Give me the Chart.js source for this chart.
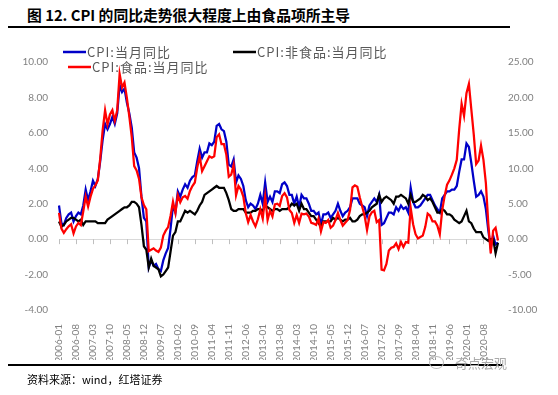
<!DOCTYPE html>
<html>
<head>
<meta charset="utf-8">
<script src="https://cdn.jsdelivr.net/npm/chart.js@4.4.0/dist/chart.umd.min.js"></script>
<style>
  body { margin: 0; background: #fff; width: 558px; height: 395px; overflow: hidden; position: relative; font-family: "Noto Sans CJK SC", sans-serif; }
  #chart { position: absolute; left: 0; top: 0; }
  #title { position: absolute; left: 27px; top: 4px; font-size: 14.8px; font-weight: bold; color: #000; line-height: 21px; white-space: nowrap; }
  .rule { position: absolute; left: 8px; height: 1.5px; background: #000; }
  #src { position: absolute; left: 27px; top: 371px; font-size: 11px; color: #000; line-height: 16px; }
  #wm { position: absolute; left: 455px; top: 354px; font-size: 13px; color: #aaa; line-height: 18px; }
  #wmIcon { position: absolute; left: 429px; top: 356px; width: 13px; height: 11px; border: 1px solid #bbb; border-radius: 50%; }
</style>
</head>
<body>
<div id="title">图 12. CPI 的同比走势很大程度上由食品项所主导</div>
<div class="rule" style="top:26px;width:502px"></div>
<canvas id="chart" width="558" height="395"></canvas>
<div class="rule" style="top:364px;width:494px"></div>
<div id="wmIcon"></div>
<div id="wm">奇点宏观</div>
<div id="src">资料来源：wind，红塔证券</div>
<script>
  // CPI:当月同比 (%), 2006-01 .. 2021-02
  const cpiAll = [
    1.9, 0.9, 0.8, 1.2, 1.4, 1.5, 1.0, 1.3, 1.5, 1.4, 1.9, 2.8,
    2.2, 2.7, 3.3, 3.0, 3.4, 4.4, 5.6, 6.5, 6.2, 6.5, 6.9, 6.5,
    7.1, 8.7, 8.3, 8.5, 7.7, 7.1, 6.3, 4.9, 4.6, 4.0, 2.4, 1.2,
    1.0, -1.6, -1.2, -1.5, -1.4, -1.7, -1.8, -1.2, -0.8, -0.5, 0.6, 1.9,
    1.5, 2.7, 2.4, 2.8, 3.1, 2.9, 3.3, 3.5, 3.6, 4.4, 5.1, 4.6,
    4.9, 4.9, 5.4, 5.3, 5.5, 6.4, 6.5, 6.2, 6.1, 5.5, 4.2, 4.1,
    4.5, 3.2, 3.6, 3.4, 3.0, 2.2, 1.8, 2.0, 1.9, 1.7, 2.0, 2.5,
    2.0, 3.2, 2.1, 2.4, 2.1, 2.7, 2.7, 2.6, 3.1, 3.2, 3.0, 2.5,
    2.5, 2.0, 2.4, 1.8, 2.5, 2.3, 2.3, 2.0, 1.6, 1.6, 1.4, 1.5,
    0.8, 1.4, 1.4, 1.5, 1.2, 1.4, 1.6, 2.0, 1.6, 1.3, 1.5, 1.6,
    1.8, 2.3, 2.3, 2.3, 2.0, 1.9, 1.8, 1.3, 1.9, 2.1, 2.3, 2.1,
    2.5, 0.8, 0.9, 1.2, 1.5, 1.5, 1.4, 1.8, 1.6, 1.9, 1.7, 1.8,
    1.5, 2.9, 2.1, 1.8, 1.8, 1.9, 2.1, 2.3, 2.5, 2.5, 2.2, 1.9,
    1.7, 1.5, 2.3, 2.5, 2.7, 2.7, 2.8, 2.8, 3.0, 3.8, 4.5, 4.5,
    5.4, 5.2, 4.3, 3.3, 2.4, 2.5, 2.7, 2.4, 1.7, 0.5, -0.5, 0.2,
    -0.3, -0.2
  ];

  // CPI:非食品:当月同比 (%)
  const cpiNonFood = [
    1.0, 0.7, 0.8, 1.0, 1.1, 1.2, 1.2, 1.1, 1.0, 1.1, 0.8, 1.0,
    1.0, 1.0, 1.0, 1.0, 0.9, 0.9, 0.9, 0.9, 1.1, 1.2, 1.3, 1.4,
    1.5, 1.6, 1.7, 1.8, 1.8, 1.9, 2.1, 2.1, 2.0, 1.8, 0.8, -0.4,
    -0.6, -1.6, -1.1, -1.5, -1.6, -1.7, -2.1, -2.0, -1.8, -1.6, -0.7, 0.2,
    0.4, 1.0, 1.0, 1.3, 1.6, 1.5, 1.6, 1.5, 1.4, 1.6, 1.9, 2.1,
    2.5, 2.6, 2.7, 2.8, 2.9, 3.0, 2.9, 2.9, 2.9, 2.6, 2.2, 1.7,
    1.6, 1.6, 1.7, 1.7, 1.7, 1.5, 1.5, 1.5, 1.6, 1.6, 1.7, 1.7,
    1.6, 1.9, 1.8, 1.7, 1.6, 1.7, 1.7, 1.6, 1.7, 1.7, 1.7, 1.8,
    2.0, 1.9, 2.0, 1.6, 2.0, 1.7, 1.7, 1.5, 1.3, 1.3, 1.1, 0.9,
    0.7, 1.0, 1.0, 1.0, 1.0, 1.2, 1.1, 1.2, 1.1, 1.0, 1.1, 1.1,
    1.2, 1.0, 1.0, 1.1, 1.3, 1.4, 1.4, 1.5, 1.6, 1.8, 1.9, 2.0,
    2.5, 2.1, 2.3, 2.4, 2.3, 2.2, 2.0, 2.4, 2.4, 2.5, 2.4, 2.3,
    2.0, 2.5, 2.1, 2.1, 2.2, 2.3, 2.5, 2.4, 2.2, 2.3, 2.1, 1.8,
    1.5, 1.5, 1.7, 1.6, 1.4, 1.4, 1.3, 1.1, 1.0, 0.9, 1.0, 1.3,
    1.6, 1.0, 0.9, 0.6, 0.4, 0.4, 0.4, 0.1, 0.0, -0.1, 0.0, 0.0,
    -0.8, -0.2
  ];

  // CPI:食品:当月同比 (%), right axis
  const cpiFood = [
    3.7, 1.5, 0.9, 1.4, 1.8, 2.1, 0.8, 1.8, 2.3, 2.0, 3.9, 6.0,
    4.6, 6.0, 7.1, 7.6, 8.3, 11.4, 15.4, 18.2, 16.2, 17.6, 18.2, 16.7,
    18.2, 23.3, 21.4, 22.1, 19.9, 17.3, 14.4, 10.3, 9.7, 8.5, 5.9, 4.8,
    4.2, -1.7, -1.5, -1.3, -1.6, -1.8, -1.2, 0.5, 1.2, 1.7, 3.3, 5.3,
    3.7, 6.2, 5.2, 5.9, 6.1, 5.7, 6.8, 7.5, 8.0, 10.1, 11.7, 9.6,
    10.3, 11.0, 11.7, 11.5, 11.7, 14.4, 14.8, 13.4, 13.4, 11.9, 8.8, 9.1,
    10.5, 6.2, 7.5, 7.0, 6.0, 3.7, 2.4, 3.4, 2.5, 1.8, 2.8, 4.2,
    2.9, 6.0, 2.7, 4.0, 3.2, 4.9, 5.0, 4.7, 6.1, 6.5, 5.9, 4.1,
    3.7, 2.3, 3.4, 2.3, 3.6, 3.5, 3.6, 3.2, 2.3, 2.2, 2.0, 2.9,
    1.1, 2.4, 2.3, 2.7, 1.6, 1.9, 2.7, 3.7, 2.7, 1.9, 2.3, 2.7,
    4.1, 7.3, 7.6, 7.4, 5.9, 4.6, 3.3, 1.3, 3.2, 3.8, 4.0, 2.4,
    2.7, -4.3, -4.4, -3.5, -1.6, -1.2, -1.1, -0.6, -1.4, -0.4, -1.1, -0.4,
    -0.5, 4.4, 2.1, 0.7, 0.1, 0.3, 0.5, 1.7, 3.6, 3.3, 2.5, 2.5,
    1.9, 0.7, 4.1, 6.1, 7.7, 8.3, 9.1, 10.0, 11.2, 15.5, 19.1, 17.4,
    20.6, 21.9, 18.3, 14.8, 10.6, 11.1, 13.2, 11.2, 7.9, 2.2, -2.0, 1.2,
    1.6, -0.2
  ];

  // monthly categories starting 2006-01
  const months = [];
  for (let i = 0; i < cpiAll.length; i++) {
    const y = 2006 + Math.floor(i / 12), m = i % 12 + 1;
    months.push(y + '-' + String(m).padStart(2, '0'));
  }
  const labelStep = 7;

  const tickFont = { family: 'Lato', size: 10 };
  const tickColor = '#808080';

  // little tick marks hanging under the zero line
  const axisMarks = {
    id: 'axisMarks',
    beforeDatasetsDraw(chart) {
      const { ctx, scales: { x, y } } = chart;
      const y0 = y.getPixelForValue(0);
      ctx.save();
      ctx.strokeStyle = '#bfbfbf';
      ctx.lineWidth = 1;
      ctx.beginPath();
      for (let i = 0; i < months.length; i += labelStep) {
        const px = Math.round(x.getPixelForValue(i)) + 0.5;
        ctx.moveTo(px, y0);
        ctx.lineTo(px, y0 + 5);
      }
      ctx.stroke();
      ctx.restore();
    }
  };

  // legend laid out like the excel one (two rows)
  const legendSpots = [
    { ds: 0, x: 63, y: 52 },
    { ds: 1, x: 233, y: 52 },
    { ds: 2, x: 68, y: 67 }
  ];
  const excelLegend = {
    id: 'excelLegend',
    afterDraw(chart) {
      const ctx = chart.ctx;
      ctx.save();
      ctx.font = '13px "Noto Sans CJK SC"';
      ctx.textBaseline = 'middle';
      ctx.letterSpacing = '1px';
      legendSpots.forEach(s => {
        const d = chart.data.datasets[s.ds];
        ctx.strokeStyle = d.borderColor;
        ctx.lineWidth = 2.5;
        ctx.beginPath();
        ctx.moveTo(s.x, s.y);
        ctx.lineTo(s.x + 23, s.y);
        ctx.stroke();
        ctx.fillStyle = '#595959';
        ctx.fillText(d.label, s.x + 24, s.y);
      });
      ctx.restore();
    }
  };

  new Chart(document.getElementById('chart'), {
    type: 'line',
    data: {
      labels: months,
      datasets: [
        { label: 'CPI:当月同比', data: cpiAll, borderColor: '#0000c8', yAxisID: 'y', order: 2 },
        { label: 'CPI:非食品:当月同比', data: cpiNonFood, borderColor: '#000000', yAxisID: 'y', order: 1 },
        { label: 'CPI:食品:当月同比', data: cpiFood, borderColor: '#ff0000', yAxisID: 'y1', order: 0 }
      ]
    },
    options: {
      responsive: false,
      animation: false,
      layout: { padding: { left: 0, right: 0, top: 62, bottom: 35 } },
      elements: {
        point: { radius: 0 },
        line: { borderWidth: 2.25, tension: 0, fill: false }
      },
      plugins: { legend: { display: false }, tooltip: { enabled: false } },
      scales: {
        x: {
          type: 'category',
          offset: false,
          grid: { display: false },
          border: { display: false },
          afterFit: s => { s.height = 50; },
          ticks: {
            autoSkip: false,
            maxRotation: 90,
            minRotation: 90,
            padding: 6,
            color: tickColor,
            font: tickFont,
            callback: (v, i) => (i % labelStep === 0 ? months[i] : null)
          }
        },
        y: {
          position: 'left',
          min: -4,
          max: 10,
          afterFit: s => { s.width = 59; },
          grid: {
            drawTicks: false,
            color: c => (c.tick && c.tick.value === 0 ? '#d9d9d9' : 'rgba(0,0,0,0)'),
            lineWidth: 1
          },
          border: { display: false },
          ticks: { stepSize: 2, padding: 11, color: tickColor, font: tickFont, callback: v => v.toFixed(2) }
        },
        y1: {
          position: 'right',
          min: -10,
          max: 25,
          afterFit: s => { s.width = 60; },
          grid: { display: false, drawTicks: false },
          border: { display: false },
          ticks: { stepSize: 5, padding: 10, color: tickColor, font: tickFont, callback: v => v.toFixed(2) }
        }
      }
    },
    plugins: [axisMarks, excelLegend]
  });
</script>
</body>
</html>
